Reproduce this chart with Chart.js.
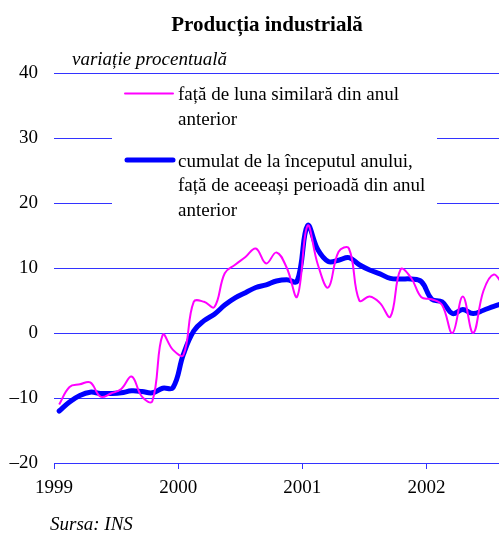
<!DOCTYPE html>
<html>
<head>
<meta charset="utf-8">
<script src="https://cdn.jsdelivr.net/npm/chart.js@4/dist/chart.umd.min.js"></script>
<style>
    html, body { margin: 0; padding: 0; background: #fff; }
    #wrap { width: 499px; height: 534px; position: relative; }
</style>
</head>
<body>
<div id="wrap"><canvas id="chart"></canvas></div>
<script>
// lunar, ian. 1999 - aug. 2002
const months = [
    '1999-01','1999-02','1999-03','1999-04','1999-05','1999-06','1999-07','1999-08','1999-09','1999-10','1999-11','1999-12',
    '2000-01','2000-02','2000-03','2000-04','2000-05','2000-06','2000-07','2000-08','2000-09','2000-10','2000-11','2000-12',
    '2001-01','2001-02','2001-03','2001-04','2001-05','2001-06','2001-07','2001-08','2001-09','2001-10','2001-11','2001-12',
    '2002-01','2002-02','2002-03','2002-04','2002-05','2002-06','2002-07','2002-08'
];

const monthlyYoY = [
    -11.0, -8.3, -7.9, -7.6, -9.8, -9.3, -8.6, -6.7, -9.8, -10.5, -0.3, -2.6,
    -3.4, 4.8, 4.8, 4.0, 9.2, 10.5, 11.7, 13.0, 10.7, 12.4, 10.0, 5.6,
    16.5, 10.5, 7.0, 12.5, 13.0, 5.0, 5.6, 4.6, 2.5, 9.8, 8.5, 5.5,
    5.2, 4.3, 0.0, 5.6, 0.0, 6.5, 9.0, 7.0
];

const cumulative = [
    -12.0, -10.6, -9.6, -9.1, -9.3, -9.3, -9.2, -8.9, -9.0, -9.2, -8.5, -8.4,
    -3.3, 0.3, 1.9, 2.9, 4.3, 5.4, 6.2, 7.0, 7.4, 8.0, 8.2, 8.0,
    16.5, 12.8, 11.0, 11.2, 11.6, 10.5, 9.7, 9.1, 8.4, 8.3, 8.3, 7.9,
    5.2, 4.8, 3.0, 3.6, 3.0, 3.5, 4.1, 4.6
];

const yearLabels = ['1999', '2000', '2001', '2002'];
const yTicks = [-20, -10, 0, 10, 20, 30, 40];

const title = 'Producția industrială';
const unitLabel = 'variație procentuală';
const source = 'Sursa: INS';
const legendMonthly = ['față de luna similară din anul', 'anterior'];
const legendCumulative = ['cumulat de la începutul anului,', 'față de aceeași perioadă din anul', 'anterior'];

const SERIF = '"Liberation Serif", "Times New Roman", serif';
const GRID = '#3333ff';

// month i is drawn in the middle of its slot, year ticks sit on the slot edges
const toPoints = arr => arr.map((v, i) => ({ x: i + 0.5, y: v }));

const textPlugin = {
    id: 'texts',
    beforeDatasetsDraw(chart) {
        const ctx = chart.ctx;
        // legend box hides the gridlines behind it
        ctx.save();
        ctx.fillStyle = '#fff';
        ctx.fillRect(112, 128, 325, 82);
        ctx.restore();
    },
    afterDraw(chart) {
        const ctx = chart.ctx;
        ctx.save();
        ctx.fillStyle = '#000';
        ctx.textBaseline = 'alphabetic';

        ctx.font = 'bold 21px ' + SERIF;
        ctx.textAlign = 'center';
        ctx.fillText(title, 267, 31);

        ctx.textAlign = 'left';
        ctx.font = 'italic 19px ' + SERIF;
        ctx.fillText(unitLabel, 72, 65);
        ctx.fillText(source, 50, 530);

        ctx.font = '19px ' + SERIF;
        legendMonthly.forEach((t, i) => ctx.fillText(t, 178, 100 + i * 25));
        legendCumulative.forEach((t, i) => ctx.fillText(t, 178, 166.5 + i * 24.5));

        ctx.lineCap = 'round';
        ctx.strokeStyle = '#ff00ff';
        ctx.lineWidth = 2;
        ctx.beginPath();
        ctx.moveTo(125, 93.5);
        ctx.lineTo(173, 93.5);
        ctx.stroke();

        ctx.strokeStyle = '#0000ff';
        ctx.lineWidth = 5;
        ctx.beginPath();
        ctx.moveTo(127, 160);
        ctx.lineTo(173, 160);
        ctx.stroke();
        ctx.restore();
    }
};

new Chart(document.getElementById('chart'), {
    type: 'line',
    data: {
        datasets: [
            {
                label: legendMonthly.join(' '),
                data: toPoints(monthlyYoY),
                borderColor: '#ff00ff',
                borderWidth: 2,
                tension: 0.4,
                pointRadius: 0,
                fill: false,
                clip: 0
            },
            {
                label: legendCumulative.join(' '),
                data: toPoints(cumulative),
                borderColor: '#0000ff',
                borderWidth: 5,
                borderCapStyle: 'round',
                borderJoinStyle: 'round',
                tension: 0.4,
                pointRadius: 0,
                fill: false,
                clip: { left: 5, right: 0, top: 5, bottom: 5 }
            }
        ]
    },
    options: {
        responsive: true,
        maintainAspectRatio: false,
        animation: false,
        layout: { padding: { top: 73, left: 0, right: 0, bottom: 0 } },
        plugins: {
            legend: { display: false },
            tooltip: { enabled: false }
        },
        scales: {
            x: {
                type: 'linear',
                min: 0,
                max: 43,
                afterBuildTicks: axis => { axis.ticks = yearLabels.map((_, i) => ({ value: i * 12 })); },
                afterFit: axis => { axis.height = 71; },
                ticks: {
                    callback: v => yearLabels[v / 12],
                    color: '#000',
                    font: { family: SERIF, size: 19 },
                    padding: 8,
                    maxRotation: 0
                },
                grid: { drawOnChartArea: false, drawTicks: true, tickLength: 6, color: GRID },
                border: { display: true, color: GRID, width: 1 }
            },
            y: {
                min: -20,
                max: 40,
                afterBuildTicks: axis => { axis.ticks = yTicks.map(v => ({ value: v })); },
                afterFit: axis => { axis.width = 54; },
                ticks: {
                    callback: v => v < 0 ? '\u2013' + Math.abs(v) : String(v),
                    color: '#000',
                    font: { family: SERIF, size: 19 },
                    padding: 16
                },
                grid: { color: GRID, drawTicks: false, lineWidth: 1 },
                border: { display: false }
            }
        }
    },
    plugins: [textPlugin]
});
</script>
</body>
</html>
